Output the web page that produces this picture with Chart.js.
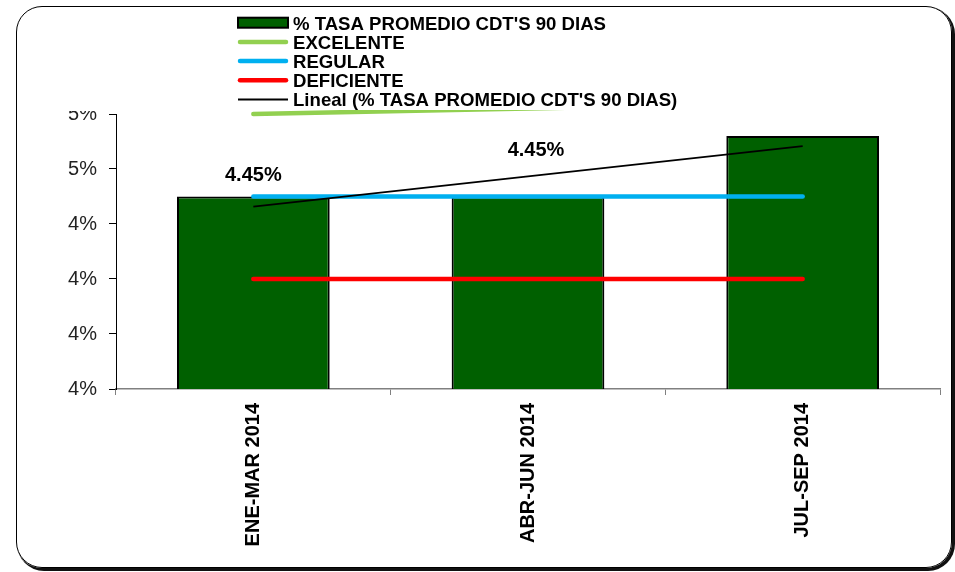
<!DOCTYPE html>
<html><head><meta charset="utf-8">
<script src="https://cdn.jsdelivr.net/npm/chart.js@4.4.1/dist/chart.umd.min.js"></script>
<style>
html,body{margin:0;padding:0;background:#fff;}
#wrap{position:relative;width:955px;height:572px;overflow:hidden;}
#frame{position:absolute;left:16px;top:6px;width:936px;height:562px;border:1px solid #000;border-radius:26px;box-shadow:2px 2px 0 1px #111;box-sizing:border-box;}
canvas{position:absolute;left:0;top:0;}
</style></head>
<body><div id="wrap"><div id="frame"></div><canvas id="c" width="955" height="572"></canvas></div>
<script>
const categories = ['ENE-MAR 2014', 'ABR-JUN 2014', 'JUL-SEP 2014'];
const tasaPromedio = [4.45, 4.45, 4.56];
const excelente = [4.6, 4.61, 4.62];
const regular = [4.45, 4.45, 4.45];
const deficiente = [4.3, 4.3, 4.3];
const yTicks = [4.1, 4.2, 4.3, 4.4, 4.5, 4.6];
const dataLabels = ['4.45%', '4.45%', ''];
const seriesNames = ["% TASA PROMEDIO CDT'S 90 DIAS", 'EXCELENTE', 'REGULAR', 'DEFICIENTE', "Lineal (% TASA PROMEDIO CDT'S 90 DIAS)"];

// Excel-style linear trendline computed from the bar series
function linearTrend(vals) {
  const n = vals.length;
  const xs = vals.map((_, i) => i + 1);
  const mx = xs.reduce((a, b) => a + b, 0) / n;
  const my = vals.reduce((a, b) => a + b, 0) / n;
  let num = 0, den = 0;
  xs.forEach((x, i) => { num += (x - mx) * (vals[i] - my); den += (x - mx) * (x - mx); });
  const b = num / den, a = my - b * mx;
  return xs.map(x => a + b * x);
}
const tendencia = linearTrend(tasaPromedio);

const FONT = '"Liberation Sans", Arial, Helvetica, sans-serif';
Chart.defaults.font.family = FONT;

const legendPlugin = {
  id: 'customLegend',
  afterDraw(chart) {
    const ctx = chart.ctx;
    const ds = chart.data.datasets;
    const x0 = 238, sw = 50, tx = 293, base0 = 29.5, dy = 19.2;
    ctx.save();
    // legend box (white) hides the top of the uppermost axis label, as in the original
    ctx.fillStyle = '#fff';
    ctx.fillRect(40, 96, 70, 15);
    ctx.font = 'bold 18.6px ' + FONT;
    ctx.textBaseline = 'alphabetic';
    ctx.textAlign = 'left';
    ds.forEach((d, i) => {
      const base = base0 + i * dy;
      const cy = base - 6.8;
      if (d.type === 'bar' || !d.type) {
        ctx.fillStyle = d.backgroundColor;
        ctx.fillRect(x0, cy - 5, sw, 10);
        ctx.lineWidth = 2;
        ctx.strokeStyle = d.borderColor;
        ctx.strokeRect(x0, cy - 5, sw, 10);
      } else {
        ctx.beginPath();
        ctx.lineCap = d.borderWidth > 2 ? 'round' : 'butt';
        ctx.lineWidth = d.borderWidth;
        ctx.strokeStyle = d.borderColor;
        ctx.moveTo(x0 + (d.borderWidth > 2 ? 2 : 0), cy);
        ctx.lineTo(x0 + sw - (d.borderWidth > 2 ? 2 : 0), cy);
        ctx.stroke();
      }
      ctx.fillStyle = '#000';
      ctx.fillText(d.label, tx, base);
    });
    ctx.restore();
  }
};

const labelPlugin = {
  id: 'barLabels',
  afterDatasetsDraw(chart) {
    const ctx = chart.ctx;
    const meta = chart.getDatasetMeta(0);
    const offsets = [[0, -21.5], [8, -46.5], [0, -21.5]];
    ctx.save();
    ctx.font = 'bold 20px ' + FONT;
    ctx.fillStyle = '#000';
    ctx.textAlign = 'center';
    ctx.textBaseline = 'middle';
    meta.data.forEach((el, i) => {
      if (!dataLabels[i]) return;
      ctx.fillText(dataLabels[i], el.x + offsets[i][0], el.y + offsets[i][1]);
    });
    ctx.restore();
  }
};

new Chart(document.getElementById('c'), {
  type: 'bar',
  data: {
    labels: categories,
    datasets: [
      { type: 'bar', label: seriesNames[0], data: tasaPromedio, backgroundColor: '#006000', borderColor: '#000', borderWidth: 2, borderSkipped: false, barPercentage: 0.556, categoryPercentage: 1, order: 10 },
      { type: 'line', label: seriesNames[1], data: excelente, borderColor: '#92D050', borderWidth: 4.5, pointRadius: 0, fill: false, borderCapStyle: 'round', clip: { left: 10, top: 4, right: 10, bottom: 10 }, order: 4 },
      { type: 'line', label: seriesNames[2], data: regular, borderColor: '#00B0F0', borderWidth: 4.5, pointRadius: 0, fill: false, borderCapStyle: 'round', order: 3 },
      { type: 'line', label: seriesNames[3], data: deficiente, borderColor: '#FF0000', borderWidth: 4.5, pointRadius: 0, fill: false, borderCapStyle: 'round', order: 2 },
      { type: 'line', label: seriesNames[4], data: tendencia, borderColor: '#000', borderWidth: 1.8, pointRadius: 0, fill: false, order: 1 }
    ]
  },
  options: {
    responsive: false,
    animation: false,
    devicePixelRatio: 1,
    layout: { padding: { left: 0, top: 114, right: 15, bottom: 0 } },
    plugins: { legend: { display: false }, tooltip: { enabled: false } },
    scales: {
      x: {
        type: 'category',
        offset: true,
        grid: { display: true, drawOnChartArea: false, drawTicks: true, tickLength: 6, color: '#808080', offset: true },
        border: { display: true, color: '#808080', width: 1.5 },
        ticks: { maxRotation: 90, minRotation: 90, autoSkip: false, color: '#000', padding: 8, font: { size: 20, weight: 'bold' } },
        afterFit(s) { s.height = 183; }
      },
      y: {
        min: yTicks[0],
        max: yTicks[yTicks.length - 1],
        afterBuildTicks(s) { s.ticks = yTicks.map(v => ({ value: v })); },
        ticks: { color: '#222', padding: 12, font: { size: 20 }, callback: v => Math.round(v) + '%' },
        grid: { display: true, drawOnChartArea: false, drawTicks: true, tickLength: 7, color: '#000' },
        border: { display: true, color: '#000', width: 1 },
        afterFit(s) { s.width = 116; }
      }
    }
  },
  plugins: [legendPlugin, labelPlugin]
});
</script>
</body></html>
